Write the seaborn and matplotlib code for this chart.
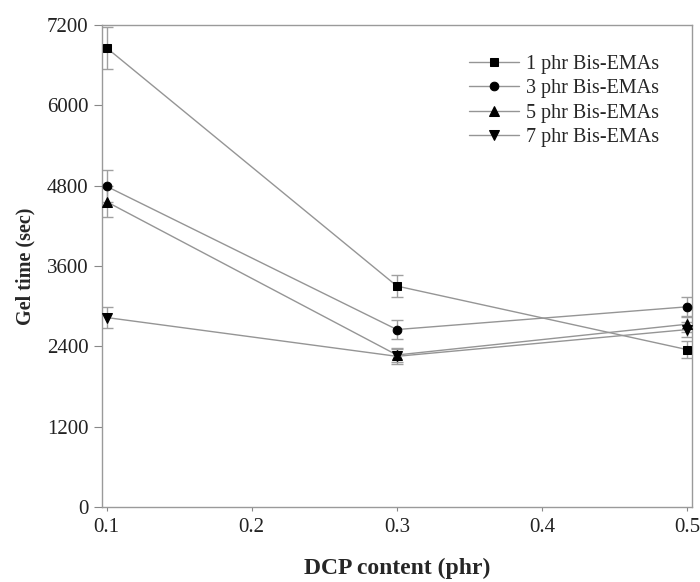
import matplotlib
matplotlib.use("Agg")
import matplotlib.pyplot as plt
import seaborn as sns
import pandas as pd

# DCP loading (phr) and measured gel times (sec) with standard deviations
dcp_content = [0.1, 0.3, 0.5]
series_labels = ["1 phr Bis-EMAs", "3 phr Bis-EMAs", "5 phr Bis-EMAs", "7 phr Bis-EMAs"]
gel_1phr = [6860, 3300, 2350]
gel_3phr = [4790, 2650, 2990]
gel_5phr = [4560, 2270, 2730]
gel_7phr = [2830, 2250, 2650]
err_1phr = [310, 170, 130]
err_3phr = [240, 140, 150]
err_5phr = [230, 110, 120]
err_7phr = [150, 110, 110]
markers = ["s", "o", "^", "v"]
y_ticks = [0, 1200, 2400, 3600, 4800, 6000, 7200]
x_ticks = [0.1, 0.2, 0.3, 0.4, 0.5]

sns.set_theme(style="ticks")
plt.rcParams["font.family"] = ["Liberation Serif", "DejaVu Serif"]

fig = plt.figure(figsize=(7.0, 5.82), dpi=100)
ax = fig.add_axes([0.146, 0.129, 0.843, 0.828])

values = [gel_1phr, gel_3phr, gel_5phr, gel_7phr]
errors = [err_1phr, err_3phr, err_5phr, err_7phr]
line_grey = "#959595"

for label, vals, errs, mk in zip(series_labels, values, errors, markers):
    df = pd.DataFrame({"dcp": dcp_content, "gel": vals})
    ax.errorbar(dcp_content, vals, yerr=errs, fmt="none", ecolor="#a0a0a0",
                elinewidth=1.0, capsize=4, capthick=1.0, zorder=2)
    sns.lineplot(data=df, x="dcp", y="gel", ax=ax, label=label,
                 color=line_grey, linewidth=1.0,
                 marker=mk, markersize=6.8 if mk in "^v" else 6.2,
                 markerfacecolor="black", markeredgecolor="black",
                 zorder=3)

ax.set_xlim(0.097, 0.5035)
ax.set_ylim(0, 7200)
ax.set_xticks(x_ticks)
ax.set_xticklabels([f"{t:.1f}" for t in x_ticks])
ax.set_yticks(y_ticks)
ax.tick_params(axis="both", labelsize=15, labelcolor="#222222",
               color="#888888", length=6, width=0.8, direction="out", pad=4)
ax.tick_params(axis="x", length=3, pad=5)
for side in ["top", "right", "left", "bottom"]:
    ax.spines[side].set_visible(True)
    ax.spines[side].set_color("#9a9a9a")
    ax.spines[side].set_linewidth(1.0)

ax.set_xlabel("DCP content (phr)", fontsize=17, fontweight="bold", labelpad=15)
ax.set_ylabel("Gel time (sec)", fontsize=14.5, fontweight="bold", labelpad=8)

ax.legend(loc="upper right", bbox_to_anchor=(0.975, 0.975), frameon=False,
          fontsize=14.5, handlelength=2.5, handletextpad=0.35,
          labelspacing=0.25, markerscale=1.0)

fig.savefig("out.png", dpi=100)
